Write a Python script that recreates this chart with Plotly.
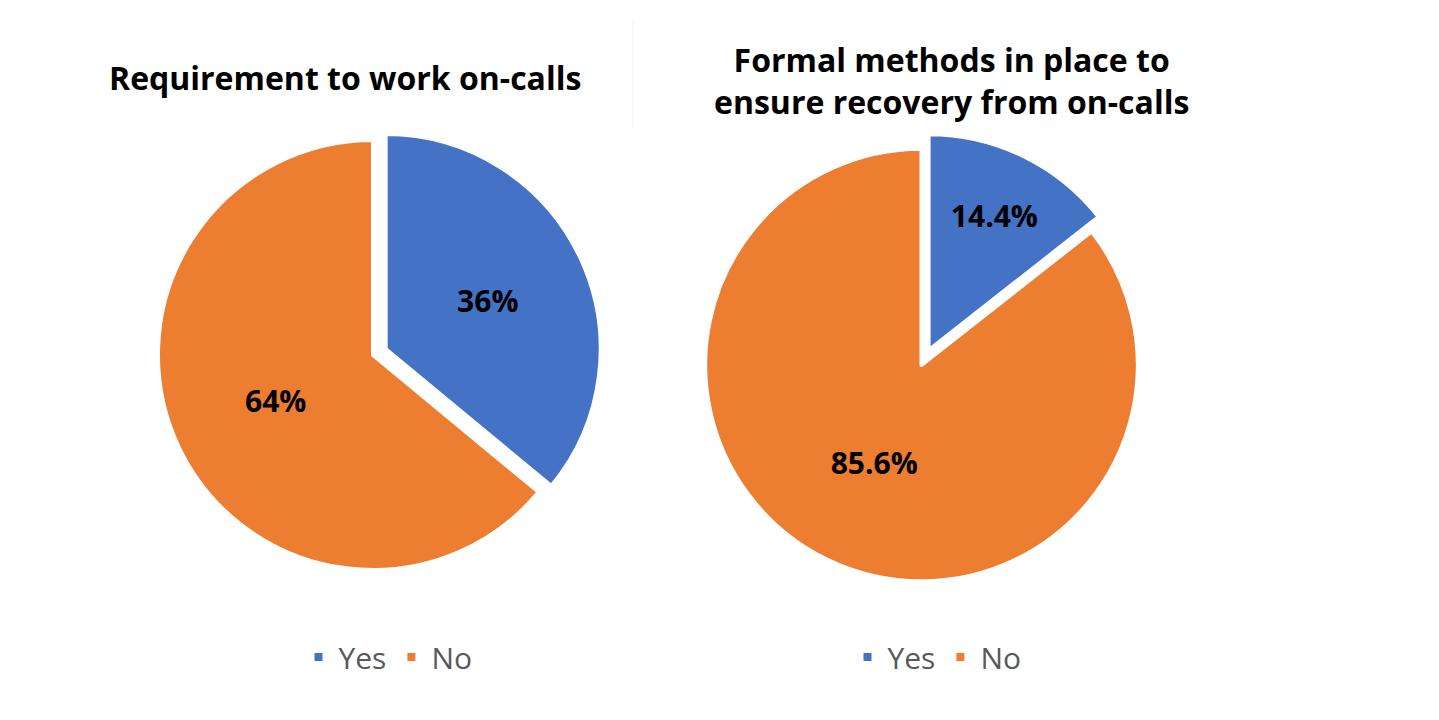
import plotly.graph_objects as go

# ============================================================
# DATA
# ============================================================

labels = ["Yes", "No"]

oncall_values = [36, 64]
recovery_values = [14.4, 85.6]

title_left = "Requirement to work on-calls"
title_right = "Formal methods in place to<br>ensure recovery from on-calls"

colors = ["#4472C4", "#ED7D31"]

W, H = 1439, 720
OFF = 8  # page body margin


def px_x(px):
    return (px - OFF) / W


def px_y(py):
    return 1 - (py - OFF) / H


# ============================================================
# FIGURE
# ============================================================

fig = go.Figure()

fig.add_trace(
    go.Pie(
        labels=labels,
        values=oncall_values,
        sort=False,
        direction="clockwise",
        rotation=0,
        pull=[0.065, 0],
        marker=dict(colors=colors, line=dict(color="white", width=4)),
        texttemplate="%{percent:.0%}",
        textposition="inside",
        insidetextorientation="horizontal",
        textfont=dict(family="Open Sans", size=30, color="black", weight="bold"),
        domain=dict(x=[px_x(144), px_x(602)], y=[px_y(584), px_y(126)]),
        legend="legend",
        legendgroup="left",
        hoverinfo="label+percent",
    )
)

fig.add_trace(
    go.Pie(
        labels=labels,
        values=recovery_values,
        sort=False,
        direction="clockwise",
        rotation=0,
        pull=[0.075, 0],
        marker=dict(colors=colors, line=dict(color="white", width=4)),
        texttemplate="%{percent:.1%}",
        textposition="inside",
        insidetextorientation="horizontal",
        textfont=dict(family="Open Sans", size=30, color="black", weight="bold"),
        domain=dict(x=[px_x(689), px_x(1154)], y=[px_y(598), px_y(132)]),
        legend="legend2",
        legendgroup="right",
        hoverinfo="label+percent",
    )
)

legend_style = dict(
    orientation="h",
    traceorder="normal",
    xanchor="center",
    yanchor="middle",
    y=px_y(657),
    font=dict(family="Open Sans", size=30, color="#595959"),
    bgcolor="rgba(0,0,0,0)",
    itemwidth=30,
)

title_font = dict(family="Open Sans", size=32, color="black")

fig.update_layout(
    width=W,
    height=H,
    margin=dict(l=0, r=0, t=0, b=0),
    paper_bgcolor="white",
    plot_bgcolor="white",
    legend=dict(x=px_x(388), **legend_style),
    legend2=dict(x=px_x(937), **legend_style),
    font=dict(family="Open Sans"),
    annotations=[
        dict(
            text=f"<b>{title_left}</b>",
            x=px_x(345),
            y=px_y(77),
            xref="paper",
            yref="paper",
            showarrow=False,
            xanchor="center",
            yanchor="middle",
            font=title_font,
        ),
        dict(
            text=f"<b>{title_right}</b>",
            x=px_x(951),
            y=px_y(81),
            xref="paper",
            yref="paper",
            showarrow=False,
            xanchor="center",
            yanchor="middle",
            font=title_font,
        ),
    ],
    shapes=[
        dict(
            type="line",
            xref="paper",
            yref="paper",
            x0=px_x(633),
            x1=px_x(633),
            y0=px_y(18),
            y1=px_y(128),
            line=dict(color="#f2f2f2", width=1),
        )
    ],
)

fig.write_html("out.html")
